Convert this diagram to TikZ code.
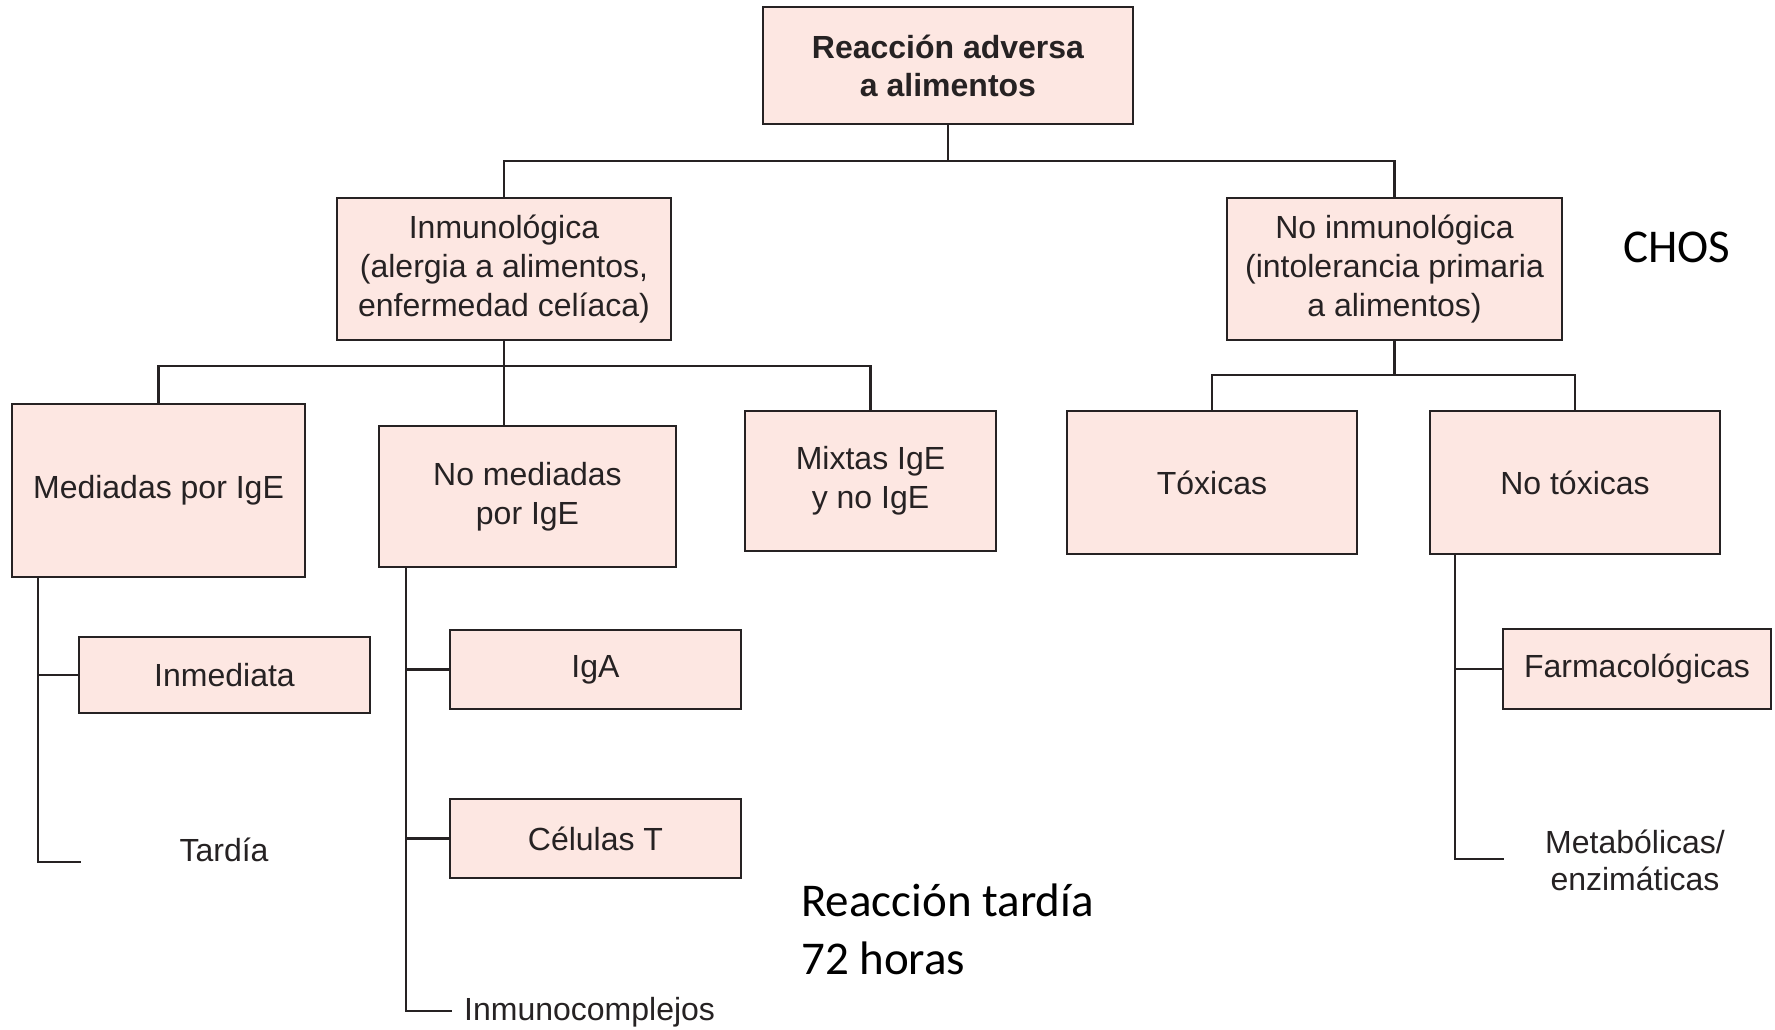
\documentclass[tikz,border=0pt]{standalone}
\usepackage{fontspec}
\setmainfont{Liberation Sans}
\newfontfamily\calib{Carlito}
\definecolor{boxfill}{RGB}{253,231,226}
\definecolor{linec}{RGB}{38,34,35}
\begin{document}
\begin{tikzpicture}[x=1pt,y=-1pt,
  box/.style={draw=linec,fill=boxfill,line width=2.4pt,inner sep=0pt,outer sep=0pt,align=center,
    text=linec,font=\fontsize{32}{39}\selectfont},
  plain/.style={inner sep=0pt,align=center,text=linec,font=\fontsize{32}{37}\selectfont},
  conn/.style={draw=linec,line width=2.2pt},
  note/.style={inner sep=0pt,align=left,text=black,font=\calib\fontsize{47}{58}\selectfont}]
\useasboundingbox[fill=white] (0,0) rectangle (1775,1030);

% level 0
\node[box,minimum width=370,minimum height=117,font=\bfseries\fontsize{32}{38}\selectfont] (root) at (948,65.5) {Reacción adversa\\a alimentos};
% level 1
\node[box,minimum width=334,minimum height=142] (inm) at (504,269) {Inmunológica\\(alergia a alimentos,\\enfermedad celíaca)};
\node[box,minimum width=335,minimum height=142] (noinm) at (1394.5,269) {No inmunológica\\(intolerancia primaria\\a alimentos)};
\node[note] (chos) at (1677,247) {CHOS};
% level 2
\node[box,minimum width=293,minimum height=173] (med) at (158.5,490.5) {Mediadas por IgE};
\node[box,minimum width=297,minimum height=141] (nomed) at (527.5,496.5) {No mediadas\\por IgE};
\node[box,minimum width=251,minimum height=140] (mix) at (870.5,481) {Mixtas IgE\\y no IgE};
\node[box,minimum width=290,minimum height=143] (tox) at (1212,482.5) {Tóxicas};
\node[box,minimum width=290,minimum height=143] (notox) at (1575,482.5) {No tóxicas};
% level 3
\node[box,minimum width=291,minimum height=76] (inmed) at (224.5,675) {Inmediata};
\node[plain] (tardia) at (224,850) {Tardía};
\node[box,minimum width=291,minimum height=79] (iga) at (595.5,669.5) {IgA};
\node[box,minimum width=291,minimum height=79] (celt) at (595.5,838.5) {Células T};
\node[plain,anchor=west] (inmc) at (464,1012) {Inmunocomplejos};
\node[box,minimum width=268,minimum height=80] (farm) at (1637,669) {Farmacológicas};
\node[plain] (metab) at (1635,860) {Metabólicas/\\enzimáticas};
\node[note,anchor=west] (rt) at (801,929) {Reacción tardía\\72 horas};

% connectors
\coordinate (b0) at (948,161);
\draw[conn] (root.south) -- (b0);
\draw[conn] (inm.north) |- (b0) -| (noinm.north);
\coordinate (b1) at (504,366);
\draw[conn] (med.north) |- (b1) -| (mix.north);
\draw[conn] (inm.south) -- (inm.south |- nomed.north);
\coordinate (b2) at (1394.5,375);
\draw[conn] (noinm.south) -- (b2);
\draw[conn] (tox.north) |- (b2) -| (notox.north);

\coordinate (s1top) at (38,577);
\coordinate (s1end) at (81,862);
\draw[conn] (s1top) |- (s1end);
\draw[conn] (s1top) |- (inmed.west);

\coordinate (s2top) at (406,567);
\coordinate (s2end) at (452,1011);
\draw[conn] (s2top) |- (s2end);
\draw[conn] (s2top) |- (iga.west);
\draw[conn] (s2top) |- (celt.west);

\coordinate (s3top) at (1455,554);
\coordinate (s3end) at (1504,859);
\draw[conn] (s3top) |- (s3end);
\draw[conn] (s3top) |- (farm.west);
\end{tikzpicture}
\end{document}
